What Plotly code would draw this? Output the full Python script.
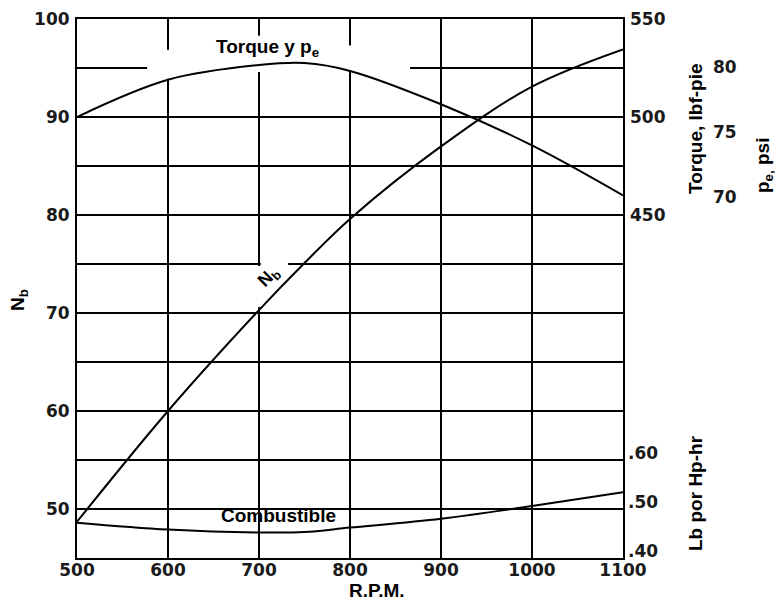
import plotly.graph_objects as go

# ---- data ----
rpm = [500, 600, 700, 750, 800, 900, 1000, 1100]
nb = [48.7, 60.0, 70.3, 75.1, 79.6, 87.0, 93.1, 96.9]            # N_b (left axis)
torque = [500, 519, 526.5, 527.5, 523.5, 506.5, 485.5, 460]      # Torque, lbf-pie
fuel = [0.472, 0.458, 0.452, 0.453, 0.462, 0.480, 0.506, 0.534]   # Lb por Hp-hr

x_ticks = [500, 600, 700, 800, 900, 1000, 1100]
torque_ticks = [450, 500, 550]
pe_ticks = [70, 75, 80]
fuel_ticks = [0.40, 0.50, 0.60]
fuel_ticktext = [".40", ".50", ".60"]

W, H = 775, 604
ML, MR, MT, MB = 77, 20, 19, 46
pw = W - ML - MR
xdom_end = (623 - ML) / pw

tickfont = dict(family="DejaVu Sans", size=17, color="#1a1a1a", weight="bold")
txtfont = dict(family="Liberation Sans, Arial", size=19, color="black", weight="bold")

fig = go.Figure()
line = dict(color="black", width=2, shape="spline", smoothing=1.0)
fig.add_trace(go.Scatter(x=rpm, y=nb, mode="lines", line=line, yaxis="y", showlegend=False))
fig.add_trace(go.Scatter(x=rpm, y=torque, mode="lines", line=line, yaxis="y2", showlegend=False))
fig.add_trace(go.Scatter(x=rpm, y=fuel, mode="lines", line=line, yaxis="y3", showlegend=False))
# p_e scale shares the torque curve; empty trace so that its axis is drawn
fig.add_trace(go.Scatter(x=[None], y=[None], mode="lines", yaxis="y4",
                         showlegend=False, hoverinfo="skip"))

gridc = "black"
fig.update_layout(
    width=W, height=H,
    margin=dict(l=ML, r=MR, t=MT, b=MB, autoexpand=False),
    paper_bgcolor="white", plot_bgcolor="white",
    xaxis=dict(domain=[0, xdom_end], range=[500, 1100], tickvals=x_ticks,
               showgrid=True, gridcolor=gridc, gridwidth=2, automargin=False,
               showline=True, linecolor="black", linewidth=2, mirror=True,
               ticks="", tickfont=tickfont, ticklabelstandoff=-4, zeroline=False),
    yaxis=dict(range=[45, 100], tick0=50, dtick=10, automargin=False,
               showgrid=True, gridcolor=gridc, gridwidth=2,
               minor=dict(dtick=5, showgrid=True, gridcolor=gridc, gridwidth=2),
               showline=True, linecolor="black", linewidth=2, mirror=True,
               ticks="", tickfont=tickfont, ticklabelstandoff=2, zeroline=False),
    yaxis2=dict(overlaying="y", side="right", anchor="x", range=[275, 550],
                tickvals=torque_ticks, showgrid=False, zeroline=False, showline=False,
                ticks="", tickfont=tickfont, ticklabelstandoff=6, automargin=False),
    yaxis3=dict(overlaying="y", side="right", anchor="x", range=[0.40, 1.50],
                tickvals=fuel_ticks, ticktext=fuel_ticktext, showgrid=False,
                zeroline=False, showline=False, ticks="", tickfont=tickfont,
                ticklabelstandoff=4, ticklabelshift=-7, automargin=False),
    yaxis4=dict(overlaying="y", side="right", anchor="free",
                position=(710 - ML) / pw, range=[42.3, 83.65],
                tickvals=pe_ticks, showgrid=False, zeroline=False, showline=False,
                ticks="", tickfont=tickfont, ticklabelstandoff=2, automargin=False),
)

# gaps in the scanned grid (white masks between grid and traces)
masks = [
    (577, 866, 94.6, 95.4),
    (596, 604, 93.9, 96.85),
    (696, 704, 95.2, 98.3),
    (796, 804, 95.0, 97.3),
    (702, 732, 74.6, 75.4),
    (696, 704, 70.6, 74.8),
]
for x0, x1, y0, y1 in masks:
    fig.add_shape(type="rect", xref="x", yref="y", x0=x0, x1=x1, y0=y0, y1=y1,
                  fillcolor="white", line=dict(width=0), layer="between")

ann = dict(showarrow=False, xanchor="center", yanchor="middle")
# curve labels
fig.add_annotation(x=709, y=97.05, xref="x", yref="y", text="Torque y p<sub>e</sub>",
                   font=txtfont, **ann)
fig.add_annotation(x=711, y=73.6, xref="x", yref="y", text="N<sub>b</sub>",
                   textangle=-45, font=dict(txtfont, size=18), **ann)
fig.add_annotation(x=721, y=49.3, xref="x", yref="y", text="Combustible",
                   font=txtfont, **ann)

# axis titles
def px(xp):
    return (xp - ML) / pw

def py(yp):
    return (H - MB - yp) / (H - MT - MB)

fig.add_annotation(x=px(377), y=py(590), xref="paper", yref="paper", text="R.P.M.",
                   font=txtfont, **ann)
fig.add_annotation(x=px(19), y=py(300), xref="paper", yref="paper", text="N<sub>b</sub>",
                   textangle=-90, font=txtfont, **ann)
fig.add_annotation(x=px(695), y=py(129), xref="paper", yref="paper",
                   text="Torque, lbf-pie", textangle=-90, font=txtfont, **ann)
fig.add_annotation(x=px(764), y=py(165), xref="paper", yref="paper",
                   text="p<sub>e,</sub> psi", textangle=-90, font=txtfont, **ann)
fig.add_annotation(x=px(695), y=py(493), xref="paper", yref="paper",
                   text="Lb por Hp-hr", textangle=-90, font=txtfont, **ann)

fig.write_html("out.html", config={"displayModeBar": False},
               post_script="document.body.style.margin='0';document.body.style.overflow='hidden';")
